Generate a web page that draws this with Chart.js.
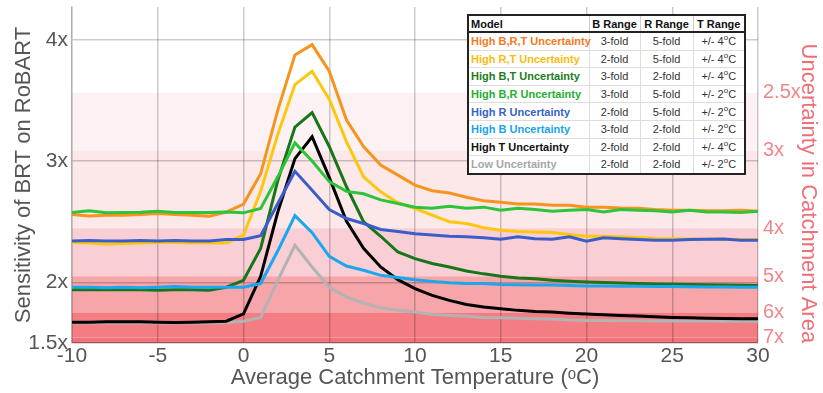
<!DOCTYPE html>
<html>
<head>
<meta charset="utf-8">
<script src="https://cdn.jsdelivr.net/npm/chart.js@4.4.0/dist/chart.umd.min.js"></script>
<style>
html,body{margin:0;padding:0;background:#fff;}
#wrap{position:relative;width:823px;height:393px;overflow:hidden;}
#c{position:absolute;left:0;top:0;}
#legendTable{position:absolute;left:467px;top:14px;width:277px;border-collapse:collapse;table-layout:fixed;
  border:2px solid #222;background:#fff;font-family:"Liberation Sans",Arial,sans-serif;font-size:11px;}
#legendTable th{font-weight:bold;color:#111;height:15px;padding:0 2px;border:1px solid #ccc;border-bottom:2px solid #222;text-align:center;white-space:nowrap;}
#legendTable th:first-child{text-align:left;}
#legendTable td{height:16.6px;padding:0 2px;border:1px solid #ddd;text-align:center;color:#333;white-space:nowrap;}
#legendTable td.name{text-align:left;font-weight:bold;}
#legendTable sup{font-size:8px;vertical-align:5px;line-height:0;}
</style>
</head>
<body>
<div id="wrap">
<canvas id="c" width="823" height="393"></canvas>
<table id="legendTable"></table>
</div>
<script>
// ---------- data ----------
const temps = [-10,-9,-8,-7,-6,-5,-4,-3,-2,-1,0,1,2,3,4,5,6,7,8,9,10,11,12,13,14,15,16,17,18,19,20,21,22,23,24,25,26,27,28,29,30];

const highBRT = [2.56,2.548,2.553,2.553,2.56,2.568,2.56,2.553,2.545,2.58,2.645,2.895,3.42,3.875,3.96,3.74,3.34,3.12,2.967,2.884,2.802,2.755,2.736,2.702,2.672,2.661,2.645,2.645,2.636,2.636,2.62,2.62,2.612,2.61,2.60,2.595,2.595,2.59,2.59,2.595,2.587];
const highRT  = [2.328,2.325,2.314,2.32,2.325,2.328,2.328,2.325,2.325,2.325,2.39,2.75,3.22,3.63,3.74,3.51,3.16,2.87,2.746,2.656,2.609,2.554,2.50,2.485,2.45,2.43,2.42,2.416,2.41,2.394,2.38,2.38,2.375,2.37,2.362,2.36,2.358,2.356,2.355,2.354,2.353];
const highBT  = [1.94,1.94,1.94,1.94,1.94,1.934,1.94,1.94,1.934,1.96,2.017,2.28,2.84,3.28,3.40,3.12,2.79,2.50,2.38,2.25,2.196,2.155,2.127,2.094,2.07,2.05,2.036,2.03,2.017,2.01,2.003,1.998,1.995,1.99,1.987,1.985,1.982,1.98,1.978,1.977,1.975];
const highBR  = [2.576,2.59,2.573,2.576,2.578,2.587,2.576,2.576,2.576,2.58,2.573,2.61,2.87,3.15,3.00,2.83,2.75,2.73,2.68,2.65,2.62,2.61,2.628,2.61,2.62,2.595,2.61,2.60,2.587,2.595,2.60,2.58,2.60,2.595,2.59,2.58,2.595,2.58,2.58,2.576,2.587];
const highR   = [2.34,2.345,2.34,2.34,2.345,2.34,2.345,2.34,2.34,2.353,2.353,2.385,2.65,2.915,2.76,2.60,2.526,2.485,2.436,2.42,2.40,2.39,2.38,2.375,2.367,2.355,2.375,2.36,2.355,2.375,2.34,2.367,2.36,2.353,2.347,2.347,2.353,2.355,2.358,2.347,2.347];
const highB   = [1.96,1.96,1.955,1.96,1.955,1.96,1.965,1.96,1.96,1.96,1.96,1.99,2.26,2.55,2.41,2.215,2.135,2.10,2.058,2.04,2.022,2.008,1.997,1.99,1.99,1.983,1.98,1.978,1.978,1.975,1.97,1.97,1.968,1.967,1.965,1.965,1.963,1.962,1.962,1.96,1.96];
const highT   = [1.672,1.672,1.675,1.675,1.675,1.672,1.668,1.672,1.675,1.68,1.74,2.05,2.58,3.02,3.20,2.865,2.505,2.28,2.127,2.022,1.948,1.893,1.851,1.818,1.796,1.783,1.769,1.76,1.755,1.746,1.74,1.733,1.727,1.722,1.717,1.711,1.708,1.705,1.703,1.70,1.70];
const lowU    = [1.665,1.665,1.665,1.665,1.665,1.665,1.665,1.665,1.665,1.668,1.68,1.71,2.017,2.306,2.127,1.96,1.88,1.83,1.79,1.77,1.755,1.735,1.727,1.72,1.711,1.708,1.705,1.70,1.697,1.69,1.686,1.685,1.684,1.683,1.682,1.682,1.681,1.681,1.68,1.68,1.68];

const modelNames = ['High B,R,T Uncertainty','High R,T Uncertainty','High B,T Uncertainty','High B,R Uncertainty','High R Uncertainty','High B Uncertainty','High T Uncertainty','Low Uncertainty'];
const bRange = ['3-fold','2-fold','3-fold','3-fold','2-fold','3-fold','2-fold','2-fold'];
const rRange = ['5-fold','5-fold','2-fold','5-fold','5-fold','2-fold','2-fold','2-fold'];
const tRange = ['4','4','4','2','2','2','4','2'];
const tableHeaders = ['Model','B Range','R Range','T Range'];

const xTicks = [-10,-5,0,5,10,15,20,25,30];
const leftTickValues = [1.5,2,3,4];
const leftTickLabels = ['1.5x','2x','3x','4x'];
const areaBounds = [3.562,3.083,2.446,2.05,1.752,1.545];
const areaLabels = ['2.5x','3x','4x','5x','6x','7x'];

// ---------- styles ----------
const seriesValues = [highBRT, highRT, highBT, highBR, highR, highB, highT, lowU];
const lineColors = ['#f7941d','#fcc70f','#17761a','#2bc43a','#3a5ec9','#1aa7ef','#000000','#b3b3b3'];
const nameColors = ['#f47a1f','#f9bc0c','#1b7d1b','#22b02c','#3563c9','#18a3ee','#111111','#a6a6a6'];
const drawOrder = [8,7,6,1,2,3,4,5];
const bandColors = ['#fdf2f3','#fce7e9','#f9ced5','#f6a5a9','#f37d83','#f0737a'];

// ---------- legend table ----------
const tbl = document.getElementById('legendTable');
let html = '<colgroup><col style="width:121px"><col style="width:51px"><col style="width:53px"><col style="width:52px"></colgroup>';
html += '<tr>' + tableHeaders.map(h => '<th>' + h + '</th>').join('') + '</tr>';
modelNames.forEach((n, i) => {
  html += '<tr><td class="name" style="color:' + nameColors[i] + '">' + n + '</td><td>' + bRange[i] + '</td><td>' + rRange[i] +
          '</td><td>+/- ' + tRange[i] + '<sup>o</sup>C</td></tr>';
});
tbl.innerHTML = html;

// ---------- chart ----------
Chart.defaults.font.family = '"Liberation Sans", Arial, sans-serif';
Chart.defaults.color = '#555';

const bandPlugin = {
  id: 'bands',
  beforeDraw(chart) {
    const {ctx, chartArea, scales} = chart;
    const y = scales.y;
    ctx.save();
    for (let i = 0; i < areaBounds.length; i++) {
      const top = y.getPixelForValue(areaBounds[i]);
      const bot = i + 1 < areaBounds.length ? y.getPixelForValue(areaBounds[i + 1]) : chartArea.bottom;
      ctx.fillStyle = bandColors[i];
      ctx.fillRect(chartArea.left, top, chartArea.right - chartArea.left, bot - top);
    }
    ctx.restore();
  }
};

const gridColor = 'rgba(0,0,0,0.2)';
const noPadY = s => { s.paddingTop = 0; s.paddingBottom = 0; };

new Chart(document.getElementById('c'), {
  type: 'line',
  data: {
    datasets: seriesValues.map((vals, i) => ({
      label: modelNames[i],
      data: temps.map((t, j) => ({x: t, y: vals[j]})),
      borderColor: lineColors[i],
      backgroundColor: lineColors[i],
      borderWidth: 3,
      pointRadius: 0,
      tension: 0,
      order: drawOrder[i]
    }))
  },
  options: {
    responsive: false,
    animation: false,
    events: [],
    layout: {padding: {top: 7, left: 0, right: 0, bottom: 0}},
    plugins: {legend: {display: false}, tooltip: {enabled: false}},
    scales: {
      x: {
        type: 'linear', min: -10, max: 30,
        afterBuildTicks: s => { s.ticks = xTicks.map(v => ({value: v})); },
        afterFit: s => { s.height = 50; s.paddingLeft = 0; s.paddingRight = 0; },
        grid: {color: gridColor, lineWidth: 1.5, drawTicks: false},
        border: {color: 'rgba(0,0,0,0.12)', width: 1.5},
        ticks: {font: {size: 21}, color: '#555', padding: 1, maxRotation: 0, autoSkip: false},
        title: {display: true, text: 'Average Catchment Temperature (\u1D52C)', font: {size: 22}, color: '#555', padding: {top: 0, bottom: 2}}
      },
      y: {
        type: 'linear', position: 'left', min: 1.5, max: 4.27,
        afterBuildTicks: s => { s.ticks = leftTickValues.map(v => ({value: v})); },
        afterFit: s => { s.width = 72; noPadY(s); },
        grid: {color: gridColor, lineWidth: 1.5, drawTicks: false},
        border: {color: 'rgba(0,0,0,0.15)', width: 1.5},
        ticks: {font: {size: 21}, color: '#555', padding: 4, autoSkip: false,
                callback: v => { const k = leftTickValues.indexOf(v); return k >= 0 ? leftTickLabels[k] : ''; }},
        title: {display: true, text: 'Sensitivity of BRT on RoBART', font: {size: 22}, color: '#555', padding: {top: 11, bottom: 0}}
      },
      y2: {
        type: 'linear', position: 'right', min: 1.5, max: 4.27,
        afterBuildTicks: s => { s.ticks = areaBounds.map(v => ({value: v})); },
        afterFit: s => { s.width = 65; noPadY(s); },
        grid: {display: false, drawTicks: false},
        border: {display: false},
        ticks: {font: {size: 20}, color: '#f2858b', padding: 5, autoSkip: false,
                callback: v => { const k = areaBounds.indexOf(v); return k >= 0 ? areaLabels[k] : ''; }},
        title: {display: true, text: '      Uncertainty in Catchment Area', font: {size: 22}, color: '#ef6f77', padding: {top: 2, bottom: 0}}
      }
    }
  },
  plugins: [bandPlugin]
});
</script>
</body>
</html>
